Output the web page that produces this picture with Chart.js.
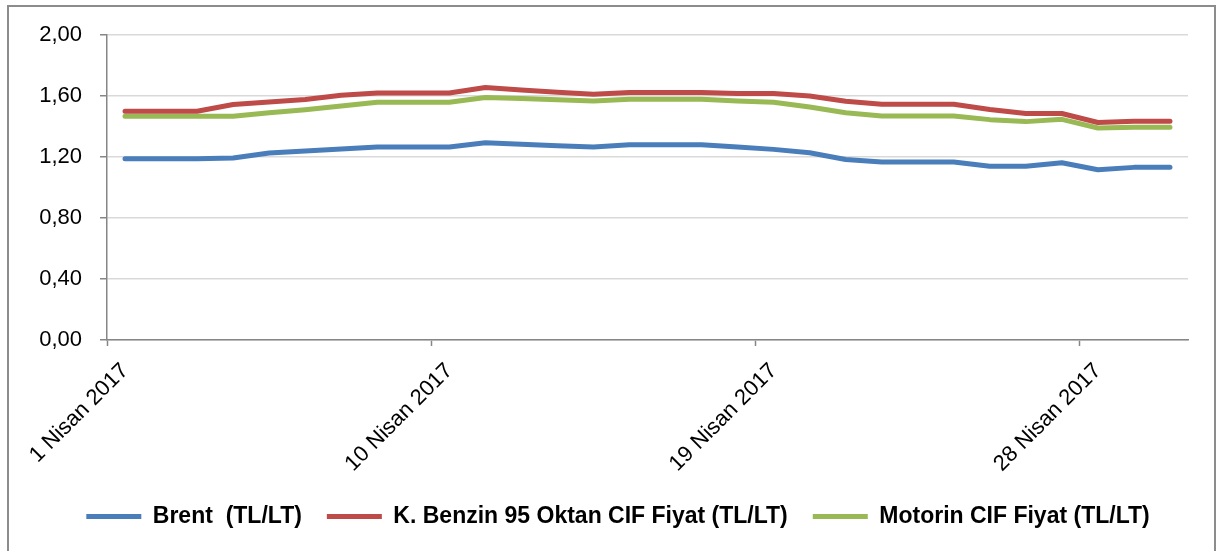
<!DOCTYPE html>
<html>
<head>
<meta charset="utf-8">
<script src="https://cdn.jsdelivr.net/npm/chart.js@4/dist/chart.umd.min.js"></script>
<style>
  html, body { margin: 0; padding: 0; background: #fff; }
  #wrap { position: absolute; left: 0; top: 0; width: 1219px; height: 551px; }
</style>
</head>
<body>
<div id="wrap"><canvas id="MyChart"></canvas></div>
<script>
// gün etiketleri (1-30 Nisan 2017)
var days = [];
for (var d = 1; d <= 30; d++) days.push(d + ' Nisan 2017');

var brent = [1.189, 1.189, 1.189, 1.193, 1.226, 1.240, 1.253, 1.265, 1.265, 1.265,
             1.294, 1.284, 1.274, 1.265, 1.281, 1.281, 1.281, 1.265, 1.250, 1.228,
             1.184, 1.167, 1.167, 1.167, 1.140, 1.140, 1.162, 1.116, 1.132, 1.132];
var benzin = [1.500, 1.500, 1.500, 1.544, 1.560, 1.577, 1.605, 1.620, 1.620, 1.620,
              1.656, 1.640, 1.625, 1.612, 1.623, 1.623, 1.623, 1.616, 1.616, 1.600,
              1.566, 1.546, 1.546, 1.546, 1.511, 1.485, 1.485, 1.426, 1.434, 1.434];
var motorin = [1.467, 1.467, 1.467, 1.467, 1.490, 1.510, 1.535, 1.559, 1.559, 1.559,
               1.590, 1.583, 1.575, 1.568, 1.579, 1.579, 1.579, 1.568, 1.559, 1.528,
               1.490, 1.469, 1.469, 1.469, 1.445, 1.432, 1.447, 1.390, 1.395, 1.395];
var yTicks = [0, 0.4, 0.8, 1.2, 1.6, 2.0];

var FONT = "'Liberation Sans', Arial, sans-serif";

// grafik çerçevesi
var frame = {
	id: 'frame',
	beforeDraw: function(chart) {
		var c = chart.ctx;
		c.save();
		c.strokeStyle = '#8c8c8c';
		c.lineWidth = 2;
		c.strokeRect(8, 6, 1207, 560);
		c.restore();
	}
};

var ctx = document.getElementById('MyChart').getContext('2d');
var chart = new Chart(ctx, {
	type : 'line',
	data : {
		labels : days,
		datasets : [ {
			label : "Brent  (TL/LT)",
			data : brent,
			borderColor : "#4a7ebb",
			backgroundColor : "#4a7ebb"
		}, {
			label : "K. Benzin 95 Oktan CIF Fiyat (TL/LT)",
			data : benzin,
			borderColor : "#be4b48",
			backgroundColor : "#be4b48"
		}, {
			label : "Motorin CIF Fiyat (TL/LT)",
			data : motorin,
			borderColor : "#98b954",
			backgroundColor : "#98b954"
		} ]
	},
	options : {
		responsive : true,
		maintainAspectRatio : false,
		animation : false,
		elements : {
			line : { borderWidth : 5, tension : 0, borderCapStyle : 'round', borderJoinStyle : 'round' },
			point : { radius : 0, hoverRadius : 0 }
		},
		layout : { padding : { top : 35, right : 0, bottom : 13, left : 17 } },
		scales : {
			x : {
				offset : true,
				afterFit : function(s) { s.height = 140; },
				grid : {
					offset : true,
					drawOnChartArea : false,
					tickLength : 6,
					tickWidth : 1.5,
					tickColor : function(c) { return c.index % 9 === 0 ? '#868686' : 'rgba(0,0,0,0)'; }
				},
				border : { color : '#868686', width : 1.5 },
				ticks : {
					autoSkip : false,
					maxRotation : 45,
					minRotation : 45,
					padding : 12,
					color : '#000',
					font : { family : FONT, size : 22 },
					callback : function(v, i) { return i % 9 === 0 ? days[i] : ''; }
				}
			},
			y : {
				min : 0,
				max : 2,
				afterFit : function(s) { s.width = 90; },
				afterBuildTicks : function(s) { s.ticks = yTicks.map(function(v) { return { value : v }; }); },
				grid : {
					color : '#d9d9d9',
					lineWidth : 1.5,
					tickLength : 7,
					tickColor : '#868686'
				},
				border : { color : '#868686', width : 1.5 },
				ticks : {
					padding : 18,
					color : '#000',
					font : { family : FONT, size : 22 },
					callback : function(v) { return v.toFixed(2).replace('.', ','); }
				}
			},
			// sağ boşluk için boş eksen
			y2 : {
				position : 'right',
				afterFit : function(s) { s.width = 31; },
				grid : { display : false },
				border : { display : false },
				ticks : { display : false }
			}
		},
		plugins : {
			tooltip : { enabled : false },
			legend : {
				position : 'bottom',
				labels : {
					boxWidth : 55,
					boxHeight : 5,
					padding : 25,
					color : '#000',
					font : { family : FONT, size : 23, weight : 'bold' },
					generateLabels : function(ch) {
						return Chart.defaults.plugins.legend.labels.generateLabels(ch).map(function(l) {
							l.fillStyle = l.strokeStyle;
							l.lineWidth = 0;
							return l;
						});
					}
				}
			}
		}
	},
	plugins : [ frame ]
});
</script>
</body>
</html>
